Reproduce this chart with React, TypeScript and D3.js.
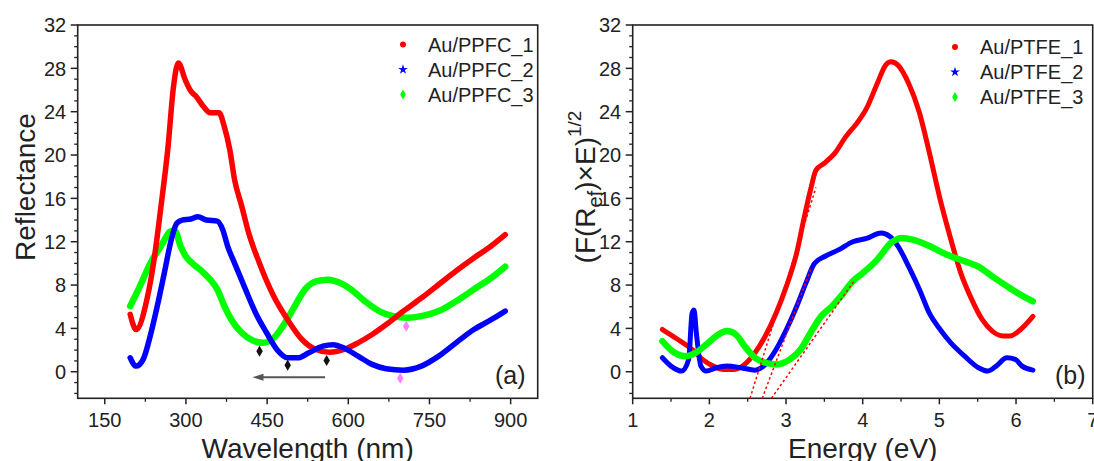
import React from "react";
import * as d3 from "d3";

// ---------- Panel (a): Reflectance vs wavelength ----------
const ppfc1X = [197, 208, 228, 241, 254, 267, 277, 286, 299, 309, 319, 332, 345, 361, 371, 381, 390, 403, 416, 436, 462, 488, 514, 540, 566, 592, 618, 644, 670, 702, 735, 767, 799, 832, 864, 890];
const ppfc1Y = [5.3, 3.9, 6.7, 10.3, 15.3, 20.8, 26.3, 28.5, 26.9, 25.9, 25.4, 24.5, 23.9, 23.9, 22.6, 20.5, 17.7, 15.3, 12.8, 10.0, 7.0, 4.8, 3.0, 2.06, 1.8, 2.06, 2.67, 3.44, 4.36, 5.6, 6.8, 8.05, 9.3, 10.5, 11.6, 12.65];

const ppfc2X = [197, 208, 221, 234, 247, 260, 273, 283, 293, 309, 322, 338, 358, 368, 377, 390, 410, 429, 449, 468, 488, 507, 527, 553, 572, 592, 618, 644, 670, 702, 735, 767, 799, 832, 864, 890];
const ppfc2Y = [1.29, 0.52, 1.14, 3.3, 6.05, 9.1, 12.2, 13.7, 14.0, 14.1, 14.3, 14.0, 13.9, 13.1, 11.6, 10.0, 7.6, 5.4, 3.6, 2.06, 1.29, 1.29, 1.75, 2.36, 2.5, 2.2, 1.44, 0.68, 0.28, 0.15, 0.52, 1.44, 2.67, 3.9, 4.8, 5.6];

const ppfc3X = [197, 215, 234, 254, 273, 280, 290, 299, 312, 329, 345, 358, 371, 384, 403, 423, 442, 462, 481, 501, 520, 540, 562, 585, 605, 631, 657, 683, 709, 735, 767, 799, 832, 864, 890];
const ppfc3Y = [6.05, 7.9, 10.0, 11.6, 12.96, 12.96, 11.6, 10.7, 10.0, 9.3, 8.5, 7.6, 6.05, 4.8, 3.6, 2.9, 2.67, 3.1, 4.36, 6.05, 7.6, 8.35, 8.5, 8.2, 7.6, 6.5, 5.6, 5.13, 4.98, 5.13, 5.6, 6.5, 7.6, 8.66, 9.7];

const markBlackX = [436, 488, 560];
const markBlackY = [1.9, 0.61, 1.04];
const markPinkX = [707, 696];
const markPinkY = [4.2, -0.6];
const arrowX = [557, 423];
const arrowY = -0.5;

const wlTicks = [150, 300, 450, 600, 750, 900];
const wlMinor = [225, 375, 525, 675, 825];
const legendA = ["Au/PPFC_1", "Au/PPFC_2", "Au/PPFC_3"];

// ---------- Panel (b): (F(R)·E)^1/2 vs energy ----------
const ptfe1X = [1.387, 1.59, 1.775, 1.91, 2.05, 2.185, 2.32, 2.46, 2.595, 2.73, 2.87, 3.005, 3.14, 3.23, 3.32, 3.39, 3.51, 3.64, 3.78, 3.92, 4.05, 4.19, 4.3, 4.37, 4.46, 4.6, 4.74, 4.87, 5.01, 5.15, 5.28, 5.42, 5.56, 5.69, 5.83, 5.92, 6.06, 6.22];
const ptfe1Y = [3.9, 2.98, 2.06, 1.14, 0.52, 0.21, 0.21, 0.68, 1.75, 3.3, 5.4, 7.9, 11.0, 14.0, 16.8, 18.6, 19.3, 20.2, 21.7, 22.9, 24.3, 26.6, 28.3, 28.6, 28.3, 26.6, 23.9, 20.2, 15.9, 12.2, 9.1, 6.7, 4.8, 3.75, 3.3, 3.3, 3.9, 5.1];

const ptfe2X = [1.387, 1.5, 1.64, 1.73, 1.775, 1.8, 1.83, 1.89, 1.96, 2.09, 2.23, 2.41, 2.595, 2.73, 2.87, 3.005, 3.14, 3.26, 3.37, 3.51, 3.69, 3.87, 4.05, 4.24, 4.35, 4.46, 4.6, 4.74, 4.87, 5.01, 5.15, 5.33, 5.51, 5.63, 5.74, 5.88, 5.99, 6.08, 6.22];
const ptfe2Y = [1.29, 0.52, 0.06, 1.14, 5.4, 5.7, 3.6, 0.52, 0.06, 0.37, 0.52, 0.37, 0.15, 0.68, 2.06, 3.9, 6.05, 8.2, 10.0, 10.66, 11.27, 12.0, 12.3, 12.8, 12.5, 11.6, 9.7, 7.6, 5.4, 3.9, 2.67, 1.44, 0.37, 0.06, 0.52, 1.29, 1.14, 0.52, 0.15];

const ptfe3X = [1.387, 1.547, 1.684, 1.82, 1.96, 2.09, 2.23, 2.345, 2.46, 2.595, 2.73, 2.87, 3.05, 3.19, 3.32, 3.46, 3.6, 3.73, 3.87, 4.0, 4.19, 4.37, 4.51, 4.65, 4.87, 5.1, 5.33, 5.51, 5.69, 5.88, 6.06, 6.22];
const ptfe3Y = [2.83, 1.75, 1.44, 1.75, 2.52, 3.3, 3.75, 3.44, 2.36, 1.29, 0.83, 0.68, 1.14, 2.06, 3.6, 5.13, 6.05, 7.1, 8.35, 9.1, 10.35, 11.9, 12.35, 12.2, 11.6, 10.8, 10.2, 9.7, 8.8, 7.9, 7.1, 6.5];

// tangent (band-gap extrapolation) lines: [x0, y0, x1, y1]
const tangentX0 = [2.53, 2.69, 2.81];
const tangentX1 = [3.39, 3.33, 3.88];
const tangentY1 = [17.0, 9.6, 8.3];

const eTicks = [1, 2, 3, 4, 5, 6, 7];
const eMinor = [1.5, 2.5, 3.5, 4.5, 5.5, 6.5];
const legendB = ["Au/PTFE_1", "Au/PTFE_2", "Au/PTFE_3"];

const yTicks = [0, 4, 8, 12, 16, 20, 24, 28, 32];
const yMinor = d3.range(-2, 32, 1).filter((v) => v % 4 !== 0);

const COLORS = ["#ff0000", "#0000ff", "#00ff00"];
const FONT = "'Liberation Sans', Arial, sans-serif";
const INK = "#222";

const yMin = -2.45;

const xA = d3.scaleLinear().domain([100, 950]).range([77.7, 537.7]);
const yA = d3.scaleLinear().domain([yMin, 32]).range([398.3, 25]);
const xB = d3.scaleLinear().domain([1, 7]).range([632.7, 1092.7]);
const yB = d3.scaleLinear().domain([yMin, 32]).range([398.3, 25]);

const symbols = [d3.symbolCircle, d3.symbolStar, d3.symbolDiamond];

function series(xs: number[], ys: number[]) {
  return xs.map((x, i) => [x, ys[i]] as [number, number]);
}

function Axes({ x, y, xt, xm, yt, ym }: any) {
  const [x0, x1] = x.range();
  const [y0, y1] = y.range();
  return (
    <g>
      <rect x={x0} y={y1} width={x1 - x0} height={y0 - y1} fill="none" stroke={INK} strokeWidth={1.6} />
      {xt.map((t: number) => (
        <g key={"xt" + t}>
          <line x1={x(t)} x2={x(t)} y1={y0} y2={y0 + 6} stroke={INK} strokeWidth={1.5} />
          <text x={x(t)} y={427} textAnchor="middle" fontSize={20} fontFamily={FONT} fill={INK}>{t}</text>
        </g>
      ))}
      {xm.map((t: number) => (
        <line key={"xm" + t} x1={x(t)} x2={x(t)} y1={y0} y2={y0 + 3.5} stroke={INK} strokeWidth={1.3} />
      ))}
      {yt.map((t: number) => (
        <g key={"yt" + t}>
          <line x1={x0 - 7} x2={x0} y1={y(t)} y2={y(t)} stroke={INK} strokeWidth={1.5} />
          <text x={x0 - 11.5} y={y(t)} dy="0.36em" textAnchor="end" fontSize={20} fontFamily={FONT} fill={INK}>{t}</text>
        </g>
      ))}
      {ym.map((t: number) => (
        <line key={"ym" + t} x1={x0 - 3.5} x2={x0} y1={y(t)} y2={y(t)} stroke={INK} strokeWidth={1.3} />
      ))}
    </g>
  );
}

function Legend({ x, ys, labels }: any) {
  return (
    <g>
      {labels.map((l: string, i: number) => (
        <g key={l}>
          <path d={d3.symbol(symbols[i], i === 1 ? 30 : 28)() as string} transform={`translate(${x},${ys[i]})`} fill={COLORS[i]} />
          <text x={x + 25} y={ys[i]} dy="0.36em" fontSize={20} fontFamily={FONT} fill={INK}>{l}</text>
        </g>
      ))}
    </g>
  );
}

export default function App() {
  const lineA = d3.line<[number, number]>().x((d) => xA(d[0])).y((d) => yA(d[1])).curve(d3.curveMonotoneX);
  const lineB = d3.line<[number, number]>().x((d) => xB(d[0])).y((d) => yB(d[1])).curve(d3.curveMonotoneX);
  const dataA = [series(ppfc1X, ppfc1Y), series(ppfc2X, ppfc2Y), series(ppfc3X, ppfc3Y)];
  const dataB = [series(ptfe1X, ptfe1Y), series(ptfe2X, ptfe2Y), series(ptfe3X, ptfe3Y)];
  const widthsA = [5.5, 5.5, 6.5];
  const widthsB = [5, 5, 6.5];
  const diamond = d3.symbol(d3.symbolDiamond, 36)() as string;
  const ax0 = xA(arrowX[0]);
  const ax1 = xA(arrowX[1]);
  const ay = yA(arrowY);

  return (
    <svg width={1094} height={461} style={{ position: "absolute", left: 0, top: 0, background: "#fff" }}>
      <rect width={1094} height={461} fill="#fff" />
      {/* Panel a */}
      <Axes x={xA} y={yA} xt={wlTicks} xm={wlMinor} yt={yTicks} ym={yMinor} />
      {[2, 0, 1].map((i) => (
        <path key={"a" + i} d={lineA(dataA[i]) as string} fill="none" stroke={COLORS[i]} strokeWidth={widthsA[i]} strokeLinejoin="round" strokeLinecap="round" />
      ))}
      {markBlackX.map((v, i) => (
        <path key={"bk" + i} d={diamond} transform={`translate(${xA(v)},${yA(markBlackY[i])})`} fill="#111" />
      ))}
      {markPinkX.map((v, i) => (
        <path key={"pk" + i} d={diamond} transform={`translate(${xA(v)},${yA(markPinkY[i])})`} fill="#ff80ff" />
      ))}
      <line x1={ax0} x2={ax1 + 8} y1={ay} y2={ay} stroke="#555" strokeWidth={2} />
      <path d={`M${ax1},${ay} L${ax1 + 11},${ay - 3.5} L${ax1 + 11},${ay + 3.5} Z`} fill="#555" />
      <Legend x={403} ys={[44.5, 69.5, 94.5]} labels={legendA} />
      <text x={495} y={384} fontSize={25} fontFamily={FONT} fill={INK}>(a)</text>
      <text transform="translate(35,187) rotate(-90)" textAnchor="middle" fontSize={28} fontFamily={FONT} fill={INK}>Reflectance</text>
      <text x={307.7} y={458} textAnchor="middle" fontSize={28} fontFamily={FONT} fill={INK}>Wavelength (nm)</text>

      {/* Panel b */}
      <Axes x={xB} y={yB} xt={eTicks} xm={eMinor} yt={yTicks} ym={yMinor} />
      {[0, 1, 2].map((i) => (
        <path key={"b" + i} d={lineB(dataB[i]) as string} fill="none" stroke={COLORS[i]} strokeWidth={widthsB[i]} strokeLinejoin="round" strokeLinecap="round" />
      ))}
      {tangentX0.map((v, i) => (
        <line key={"tg" + i} x1={xB(v)} y1={yB(yMin)} x2={xB(tangentX1[i])} y2={yB(tangentY1[i])} stroke="#ff0000" strokeWidth={1.5} strokeDasharray="2.5,2.5" />
      ))}
      <Legend x={955} ys={[47, 72, 97]} labels={legendB} />
      <text x={1055} y={384} fontSize={25} fontFamily={FONT} fill={INK}>(b)</text>
      <text transform="translate(595,187) rotate(-90)" textAnchor="middle" fontSize={28} fontFamily={FONT} fill={INK}>
        (F(R<tspan fontSize={20} dy={7}>ef</tspan><tspan dy={-7}>)×E)</tspan><tspan fontSize={19} dy={-14}>1/2</tspan>
      </text>
      <text x={862.7} y={458} textAnchor="middle" fontSize={28} fontFamily={FONT} fill={INK}>Energy (eV)</text>
    </svg>
  );
}
